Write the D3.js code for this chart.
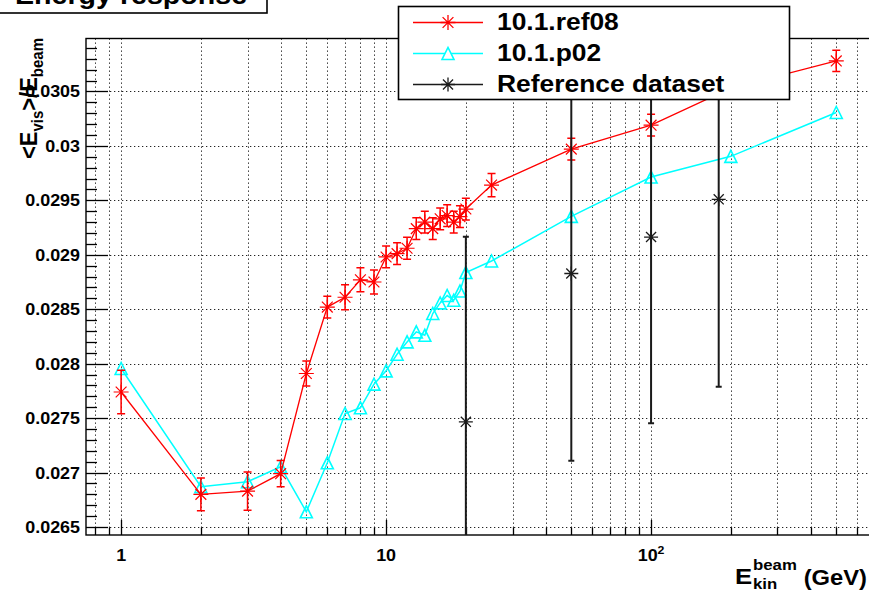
<!DOCTYPE html>
<html><head><meta charset="utf-8">
<script src="https://cdn.jsdelivr.net/npm/d3@7"></script>
<style>
html,body{margin:0;padding:0;background:#fff;overflow:hidden}
svg{display:block}
text{font-family:"Liberation Sans",Arial,Helvetica,sans-serif;font-weight:bold;fill:#000}
</style>
</head><body>
<svg id="c" width="869" height="591"></svg>
<script>
// ---- data ----
const energies = [1,2,3,4,5,6,7,8,9,10,11,12,13,14,15,16,17,18,19,20,25,50,100,200,500];
const ref08Values = [0.02774,0.02680,0.02683,0.02699,0.02791,0.02852,0.02861,0.02877,0.02875,0.02898,
  0.02901,0.02906,0.02924,0.02930,0.02924,0.02933,0.02936,0.02930,0.02935,0.02942,
  0.02964,0.02997,0.03019,0.03053,0.03078];
const ref08Errors = [0.00020,0.00015,0.000175,0.00012,0.000115,0.00010,0.000115,0.00011,0.00011,0.00010,
  0.00010,0.00010,0.00010,0.00010,0.00010,0.00010,0.00010,0.00010,0.00010,0.00010,
  0.000107,0.00010,0.00010,0.00010,0.000097];
const p02Values = [0.027956,0.02687,0.026916,0.027053,0.02664,0.02709,0.027543,0.027595,0.027812,0.027934,
  0.028087,0.02820,0.028292,0.028261,0.028461,0.028558,0.028626,0.028583,0.028667,0.028837,
  0.028943,0.029353,0.029714,0.029904,0.030307];
const refEnergies = [20,50,100,180];
const refValues = [0.027466,0.028828,0.029163,0.029509];
const refErrors = [0.00170,0.00172,0.00171,0.00172];
const yTickValues = [0.0265,0.027,0.0275,0.028,0.0285,0.029,0.0295,0.03,0.0305];
const yTickLabels = ["0.0265","0.027","0.0275","0.028","0.0285","0.029","0.0295","0.03","0.0305"];
const xTickValues = [1,10,100];
const xTickLabels = [["1",""],["10",""],["10","2"]];
const seriesNames = ["10.1.ref08","10.1.p02","Reference dataset"];

// ---- layout ----
const svg = d3.select("#c");
const F = {left:86, top:38.5, right:872, bottom:535};
const SX = 1.12; // horizontal stretch of text
const x = d3.scaleLog().domain([0.737, 682]).range([F.left, F.right]);
const y = d3.scaleLinear().domain([0.026427, 0.030986]).range([F.bottom, F.top]);

svg.append("defs").append("clipPath").attr("id","fc")
  .append("rect").attr("x",F.left).attr("y",F.top).attr("width",F.right-F.left).attr("height",F.bottom-F.top);

// grid
const grid = svg.append("g").attr("stroke","#222").attr("stroke-width",1).attr("stroke-dasharray","1.3,2.7");
const xGrid = x.ticks();
grid.selectAll(".gx").data(xGrid).enter().append("line")
  .attr("x1",d=>Math.round(x(d))+0.5).attr("x2",d=>Math.round(x(d))+0.5)
  .attr("y1",F.top).attr("y2",F.bottom);
grid.selectAll(".gy").data(yTickValues).enter().append("line")
  .attr("x1",F.left).attr("x2",F.right)
  .attr("y1",d=>Math.round(y(d))+0.5).attr("y2",d=>Math.round(y(d))+0.5);

// frame
svg.append("rect").attr("x",F.left).attr("y",F.top).attr("width",F.right-F.left).attr("height",F.bottom-F.top)
  .attr("fill","none").attr("stroke","#000").attr("stroke-width",1.4);

// ticks
const tk = svg.append("g").attr("stroke","#000").attr("stroke-width",1.3);
const yMinor = d3.range(265,310).map(v=>v/10000).filter(v=>v>=y.domain()[0] && v<=y.domain()[1]);
tk.selectAll(".ym").data(yMinor).enter().append("line")
  .attr("x1",F.left).attr("x2",d=>F.left + (yTickValues.some(t=>Math.abs(t-d)<1e-9)?22:11))
  .attr("y1",d=>Math.round(y(d))+0.5).attr("y2",d=>Math.round(y(d))+0.5);
tk.selectAll(".xm").data(xGrid).enter().append("line")
  .attr("x1",d=>Math.round(x(d))+0.5).attr("x2",d=>Math.round(x(d))+0.5)
  .attr("y1",F.bottom).attr("y2",d=>F.bottom - (xTickValues.includes(d)?15:7.5));

// tick labels
svg.selectAll(".yl").data(yTickValues).enter().append("text")
  .attr("transform",d=>`translate(80,${y(d)+6}) scale(${SX},1)`)
  .attr("text-anchor","end").attr("font-size",16).text((d,i)=>yTickLabels[i]);
const xl = svg.selectAll(".xl").data(xTickValues).enter().append("text")
  .attr("transform",d=>`translate(${x(d)},561) scale(${SX},1)`)
  .attr("text-anchor","middle").attr("font-size",16);
xl.append("tspan").text((d,i)=>xTickLabels[i][0]);
xl.append("tspan").attr("font-size",11).attr("dy",-7).text((d,i)=>xTickLabels[i][1]);

// axis titles
const xt = svg.append("g").attr("transform","translate(735,0)");
xt.append("text").attr("transform",`translate(0,584) scale(${SX},1)`).attr("font-size",23).text("E");
xt.append("text").attr("transform",`translate(18,570) scale(${SX},1)`).attr("font-size",15).text("beam");
xt.append("text").attr("transform",`translate(18,589) scale(${SX},1)`).attr("font-size",15).text("kin");
xt.append("text").attr("transform",`translate(132,585) scale(1.08,1)`).attr("text-anchor","end").attr("font-size",22).text("(GeV)");

const yt = svg.append("text").attr("transform",`translate(37,38) rotate(-90) scale(1,${SX})`)
  .attr("text-anchor","end").attr("font-size",22);
yt.append("tspan").text("<E");
yt.append("tspan").attr("font-size",15).attr("dy",5).text("vis");
yt.append("tspan").attr("dy",-5).text(">/E");
yt.append("tspan").attr("font-size",15).attr("dy",5).text("beam");

// marker helpers
function star(g, cx, cy, s, color, w){
  const d = s*0.72;
  g.append("path").attr("d",`M${cx-s},${cy}H${cx+s}M${cx},${cy-s}V${cy+s}M${cx-d},${cy-d}L${cx+d},${cy+d}M${cx-d},${cy+d}L${cx+d},${cy-d}`)
    .attr("stroke",color).attr("stroke-width",w).attr("fill","none");
}
function tri(g, cx, cy, s, color){
  g.append("path").attr("d",`M${cx-s},${cy+s}L${cx+s},${cy+s}L${cx},${cy-s}Z`)
    .attr("stroke",color).attr("stroke-width",1.6).attr("fill","none");
}

const plot = svg.append("g").attr("clip-path","url(#fc)");
const line = d3.line().x(d=>x(d[0])).y(d=>y(d[1]));

// cyan series
const CY = "#00ffff", RD = "#ff0000", BK = "#1a1a1a";
plot.append("path").attr("d",line(energies.map((e,i)=>[e,p02Values[i]])))
  .attr("fill","none").attr("stroke",CY).attr("stroke-width",1.5);
const gC = plot.append("g");
energies.forEach((e,i)=>tri(gC, x(e), y(p02Values[i]), 6, CY));

// red series
plot.append("path").attr("d",line(energies.map((e,i)=>[e,ref08Values[i]])))
  .attr("fill","none").attr("stroke",RD).attr("stroke-width",1.3);
const gR = plot.append("g");
energies.forEach((e,i)=>{
  const cx=x(e), y1=y(ref08Values[i]+ref08Errors[i]), y2=y(ref08Values[i]-ref08Errors[i]);
  gR.append("path").attr("d",`M${cx},${y1}V${y2}M${cx-4},${y1}H${cx+4}M${cx-4},${y2}H${cx+4}`)
    .attr("stroke",RD).attr("stroke-width",1.5).attr("fill","none");
  star(gR, cx, y(ref08Values[i]), 7.5, RD, 1.2);
});

// black reference
const gB = plot.append("g");
refEnergies.forEach((e,i)=>{
  const cx=x(e), y1=y(refValues[i]+refErrors[i]), y2=y(refValues[i]-refErrors[i]);
  gB.append("path").attr("d",`M${cx},${y1}V${y2}M${cx-3},${y1}H${cx+3}M${cx-3},${y2}H${cx+3}`)
    .attr("stroke",BK).attr("stroke-width",2).attr("fill","none");
  star(gB, cx, y(refValues[i]), 7, BK, 1.3);
});

// legend
const lg = svg.append("g");
lg.append("rect").attr("x",398.5).attr("y",6.5).attr("width",391).attr("height",93)
  .attr("fill","#fff").attr("stroke","#000").attr("stroke-width",1.6);
const legY = [22.5,53.5,84.5];
const legColors = [RD,CY,BK];
seriesNames.forEach((n,i)=>{
  lg.append("line").attr("x1",413).attr("x2",483).attr("y1",legY[i]).attr("y2",legY[i])
    .attr("stroke",legColors[i]).attr("stroke-width",1.3);
  if(i===0){ star(lg,448,legY[i],7.5,RD,1.3); }
  if(i===1){ lg.append("path").attr("d",`M442,${legY[i]+6}L454,${legY[i]+6}L448,${legY[i]-6}Z`).attr("fill","#fff").attr("stroke",CY).attr("stroke-width",1.6); }
  if(i===2){ star(lg,448,legY[i],7,BK,1.3); }
  lg.append("text").attr("transform",`translate(497,${legY[i]+7.5}) scale(1.1,1)`).attr("font-size",24).text(n);
});

// title box
svg.append("rect").attr("x",-2).attr("y",-2).attr("width",269).attr("height",15)
  .attr("fill","#fff").attr("stroke","#000").attr("stroke-width",1.6);
svg.append("text").attr("transform",`translate(15,3.5) scale(1.1,1)`).attr("font-size",26).text("Energy response");
</script>
</body></html>
